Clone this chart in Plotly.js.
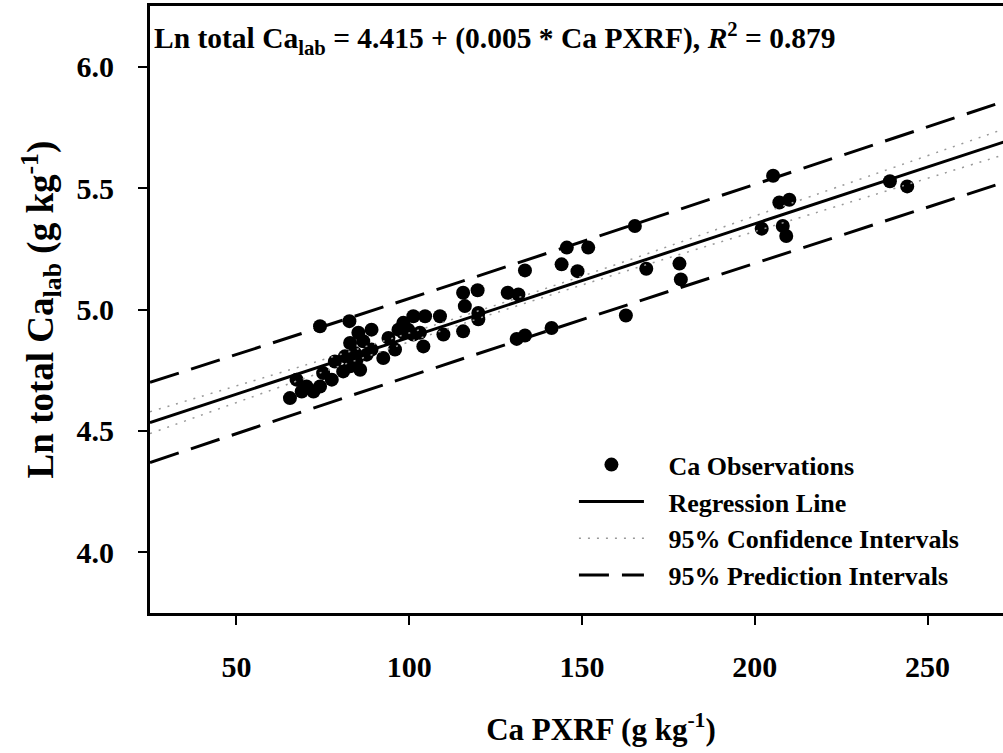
<!DOCTYPE html>
<html>
<head>
<meta charset="utf-8">
<script src="https://cdn.plot.ly/plotly-3.0.1.min.js"></script>
<style>
html, body { margin: 0; padding: 0; overflow: hidden; background: #fff; }
#chart { width: 1058px; height: 753px; }
</style>
</head>
<body>
<div id="chart"></div>
<script>
// Observed data (Ca PXRF vs Ln total Ca lab)
const obsX = [65.5, 67.4, 68.9, 70.3, 72.3, 74.2, 74.2, 75.1, 77.6, 78.5, 80.9, 81.4, 82.7, 82.9, 82.9, 84.3, 84.8, 85.3, 85.8, 86.7, 87.7, 89.1, 89.1, 92.5, 94.0, 95.9, 96.9, 98.3, 98.3, 99.7, 101.2, 101.2, 103.1, 104.1, 104.6, 108.9, 109.9, 115.6, 115.6, 116.1, 119.8, 120.0, 120.0, 128.5, 131.6, 131.1, 133.5, 133.5, 141.2, 144.1, 145.6, 148.7, 151.8, 162.7, 165.3, 168.6, 178.2, 178.6, 202.0, 205.3, 207.1, 208.1, 209.1, 210.0, 239.1, 244.1];
const obsY = [4.635, 4.711, 4.662, 4.683, 4.662, 4.931, 4.683, 4.738, 4.711, 4.786, 4.745, 4.807, 4.952, 4.862, 4.766, 4.821, 4.793, 4.904, 4.752, 4.869, 4.814, 4.917, 4.835, 4.800, 4.883, 4.835, 4.917, 4.945, 4.904, 4.917, 4.972, 4.897, 4.904, 4.848, 4.972, 4.972, 4.897, 5.069, 4.910, 5.014, 5.079, 4.986, 4.960, 5.069, 5.062, 4.879, 4.893, 5.161, 4.924, 5.186, 5.255, 5.158, 5.255, 4.975, 5.344, 5.168, 5.189, 5.124, 5.333, 5.551, 5.441, 5.344, 5.303, 5.452, 5.528, 5.507];

// Fitted regression line and interval bands
const regX = [25, 290];
const regY = [4.534, 5.774];
const ciX = [25, 75, 115, 160, 210, 290];
const ciUpper = [4.579, 4.793, 4.971, 5.186, 5.435, 5.832];
const ciLower = [4.489, 4.743, 4.939, 5.146, 5.365, 5.716];
const piX = [25, 115, 290];
const piUpper = [4.700, 5.115, 5.942];
const piLower = [4.370, 4.795, 5.606];

const xTicks = [50, 100, 150, 200, 250];
const yTicks = [4.0, 4.5, 5.0, 5.5, 6.0];

const F = 'Liberation Serif, Times New Roman, serif';
const pad = '\u00a0\u00a0\u00a0';

const traces = [
  { x: obsX, y: obsY, mode: 'markers', type: 'scatter', name: pad + 'Ca Observations',
    marker: { color: '#000', size: 14 }, legendgroup: 'a' },
  { x: regX, y: regY, mode: 'lines', type: 'scatter', name: pad + 'Regression Line',
    line: { color: '#000', width: 3 }, legendgroup: 'b' },
  { x: ciX, y: ciUpper, mode: 'lines', type: 'scatter', name: pad + '95% Confidence Intervals',
    line: { color: '#999', width: 1.5, dash: '2px,7px', shape: 'spline' }, legendgroup: 'c' },
  { x: ciX, y: ciLower, mode: 'lines', type: 'scatter', name: pad + '95% Confidence Intervals',
    line: { color: '#999', width: 1.5, dash: '2px,7px', shape: 'spline' }, legendgroup: 'c', showlegend: false },
  { x: piX, y: piUpper, mode: 'lines', type: 'scatter', name: pad + '95% Prediction Intervals',
    line: { color: '#000', width: 3, dash: '30px,13px', shape: 'spline' }, legendgroup: 'd' },
  { x: piX, y: piLower, mode: 'lines', type: 'scatter', name: pad + '95% Prediction Intervals',
    line: { color: '#000', width: 3, dash: '30px,13px', shape: 'spline' }, legendgroup: 'd', showlegend: false }
];

const layout = {
  width: 1058, height: 753,
  margin: { l: 150, r: 6, t: 6, b: 140 },
  paper_bgcolor: '#fff', plot_bgcolor: '#fff',
  font: { family: F, color: '#000', size: 24, weight: 'bold' },
  showlegend: true,
  legend: {
    x: 0.47, y: 0.283, xanchor: 'left', yanchor: 'top',
    bgcolor: 'rgba(0,0,0,0)', itemwidth: 65,
    traceorder: 'grouped', tracegroupgap: 0,
    font: { family: F, size: 26, weight: 'bold', color: '#000' }
  },
  xaxis: {
    range: [25, 286], tickvals: xTicks, ticktext: xTicks.map(String),
    ticks: 'outside', ticklen: 9, tickwidth: 2, tickcolor: '#000',
    showline: true, linewidth: 3, linecolor: '#000', mirror: true,
    showgrid: false, zeroline: false, ticklabelstandoff: 16,
    tickfont: { family: F, size: 30, weight: 'bold' },
    title: { text: 'Ca PXRF (g kg<sup>-1</sup>)', font: { family: F, size: 31, weight: 'bold' }, standoff: 37 }
  },
  yaxis: {
    range: [3.75, 6.25], tickvals: yTicks, tickformat: '.1f',
    ticks: 'outside', ticklen: 9, tickwidth: 2, tickcolor: '#000',
    showline: true, linewidth: 3, linecolor: '#000', mirror: true,
    showgrid: false, zeroline: false, ticklabelstandoff: 18,
    tickfont: { family: F, size: 30, weight: 'bold' },
    title: { text: 'Ln total Ca<sub>lab</sub> (g kg<sup>-1</sup>)', font: { family: F, size: 37, weight: 'bold' }, standoff: 12 }
  },
  annotations: [{
    xref: 'paper', yref: 'paper', x: 0, y: 1, xanchor: 'left', yanchor: 'top',
    xshift: 2, yshift: -10, showarrow: false, align: 'left',
    text: 'Ln total Ca<sub>lab</sub> = 4.415 + (0.005 * Ca PXRF), <i>R</i><sup>2</sup> = 0.879',
    font: { family: F, size: 29.5, weight: 'bold', color: '#000' }
  }]
};

Plotly.newPlot('chart', traces, layout, { displayModeBar: false, staticPlot: true });
</script>
</body>
</html>
